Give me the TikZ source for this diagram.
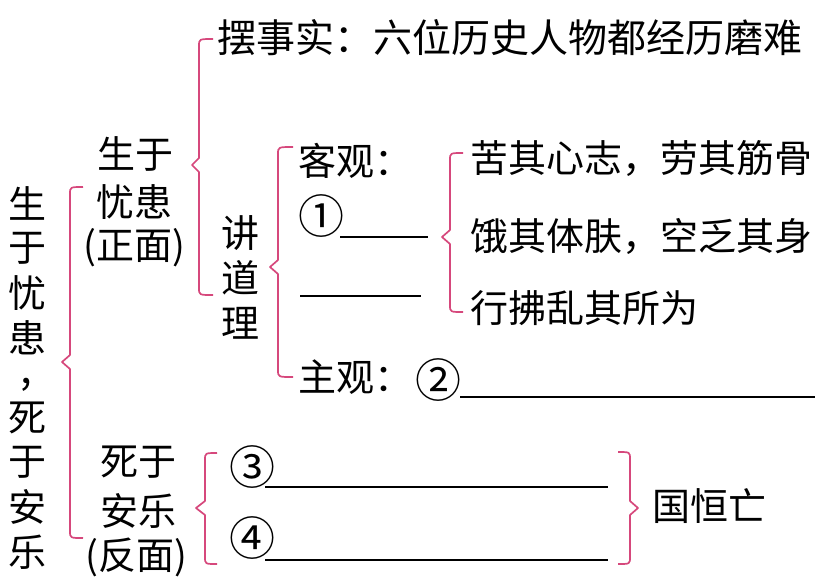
\documentclass[tikz,border=0pt]{standalone}
\usepackage{fontspec}
\newfontfamily\cjk{Noto Sans CJK SC}
\definecolor{brc}{RGB}{214,72,124}
\tikzset{
  txt/.style={inner sep=0pt,font=\cjk\fontsize{38}{45}\selectfont},
  toptxt/.style={inner sep=0pt,font=\cjk\fontsize{39}{45}\selectfont},
  circ/.style={inner sep=0pt,font=\cjk\fontsize{46}{46}\selectfont},
  br/.style={draw=brc,line width=1.7pt,line join=round},
  blank/.style={draw=black,line width=1.6pt}
}
\newcommand\mybrL[6]{% xv, ytop, ymid, ybot, xend, xpoint
  \draw[br] (#5,#2) .. controls (#1,#2) .. (#1,#2+7) -- (#1,#3-7) -- (#6,#3) -- (#1,#3+7) -- (#1,#4-7) .. controls (#1,#4) .. (#5,#4);}
\begin{document}
\begin{tikzpicture}[x=1pt,y=-1pt]
\useasboundingbox (0,0) rectangle (830,582);
% left column
\foreach \c/\yy/\nm in {生/203/l1,于/248/l2,忧/293/l3,患/338/l4,死/418/l6,于/462/l7,安/507/l8,乐/552/l9}
  \node[txt] (\nm) at (28,\yy) {\c};
\node[inner sep=0pt,font=\cjk\fontsize{42}{42}\selectfont] (l5) at (26,385) {,};
% left brace
\mybrL{70}{187}{362}{538}{83}{62}
% 生于忧患
\node[txt] (szyh1) at (135,154) {生于};
\node[txt] (szyh2) at (134,202) {忧患};
\node[txt] (szyh3) at (134,248) {(正面)};
% top brace
\mybrL{199}{39}{165}{295}{213}{192}
\node[toptxt,anchor=west] (fact) at (217,38) {摆事实：六位历史人物都经历磨难};
% 讲道理
\node[txt] (j1) at (240,233) {讲};
\node[txt] (j2) at (240,278) {道};
\node[txt] (j3) at (240,323) {理};
\mybrL{278}{147}{267}{377}{293}{270}
\node[txt,anchor=west] (kg) at (298,161) {客观：};
\node[circ,anchor=west] (n1) at (298,216) {①};
\coordinate (u1a) at (340,237); \coordinate (u1b) at (428,237);
\draw[blank] (u1a) -- (u1b);
\coordinate (u2a) at (300,296); \coordinate (u2b) at (421,296);
\draw[blank] (u2a) -- (u2b);
\node[txt,anchor=west] (zg) at (298,377) {主观：};
\node[circ,anchor=west] (n2) at (415,380) {②};
\coordinate (u3a) at (460,397); \coordinate (u3b) at (815,397);
\draw[blank] (u3a) -- (u3b);
% brace 3
\mybrL{450}{153}{237}{312}{463}{442}
\node[txt,anchor=west] (k1) at (470,158) {苦其心志，劳其筋骨};
\node[txt,anchor=west] (k2) at (470,236) {饿其体肤，空乏其身};
\node[txt,anchor=west] (k3) at (470,308) {行拂乱其所为};
% 死于安乐
\node[txt] (sy1) at (138,462) {死于};
\node[txt] (sy2) at (138,511) {安乐};
\node[txt] (sy3) at (136,557) {(反面)};
\mybrL{205}{453}{508}{564}{217}{196}
\node[circ,anchor=west] (n3) at (229,467) {③};
\node[circ,anchor=west] (n4) at (229,538) {④};
\coordinate (u4a) at (265,487); \coordinate (u4b) at (608,487);
\draw[blank] (u4a) -- (u4b);
\coordinate (u5a) at (265,560); \coordinate (u5b) at (608,560);
\draw[blank] (u5a) -- (u5b);
% right brace
\draw[br] (618,452) .. controls (630,452) .. (630,459) -- (630,501) -- (638,508) -- (630,515) -- (630,557) .. controls (630,564) .. (618,564);
\node[txt,anchor=west] (gh) at (652,506) {国恒亡};
\end{tikzpicture}
\end{document}
